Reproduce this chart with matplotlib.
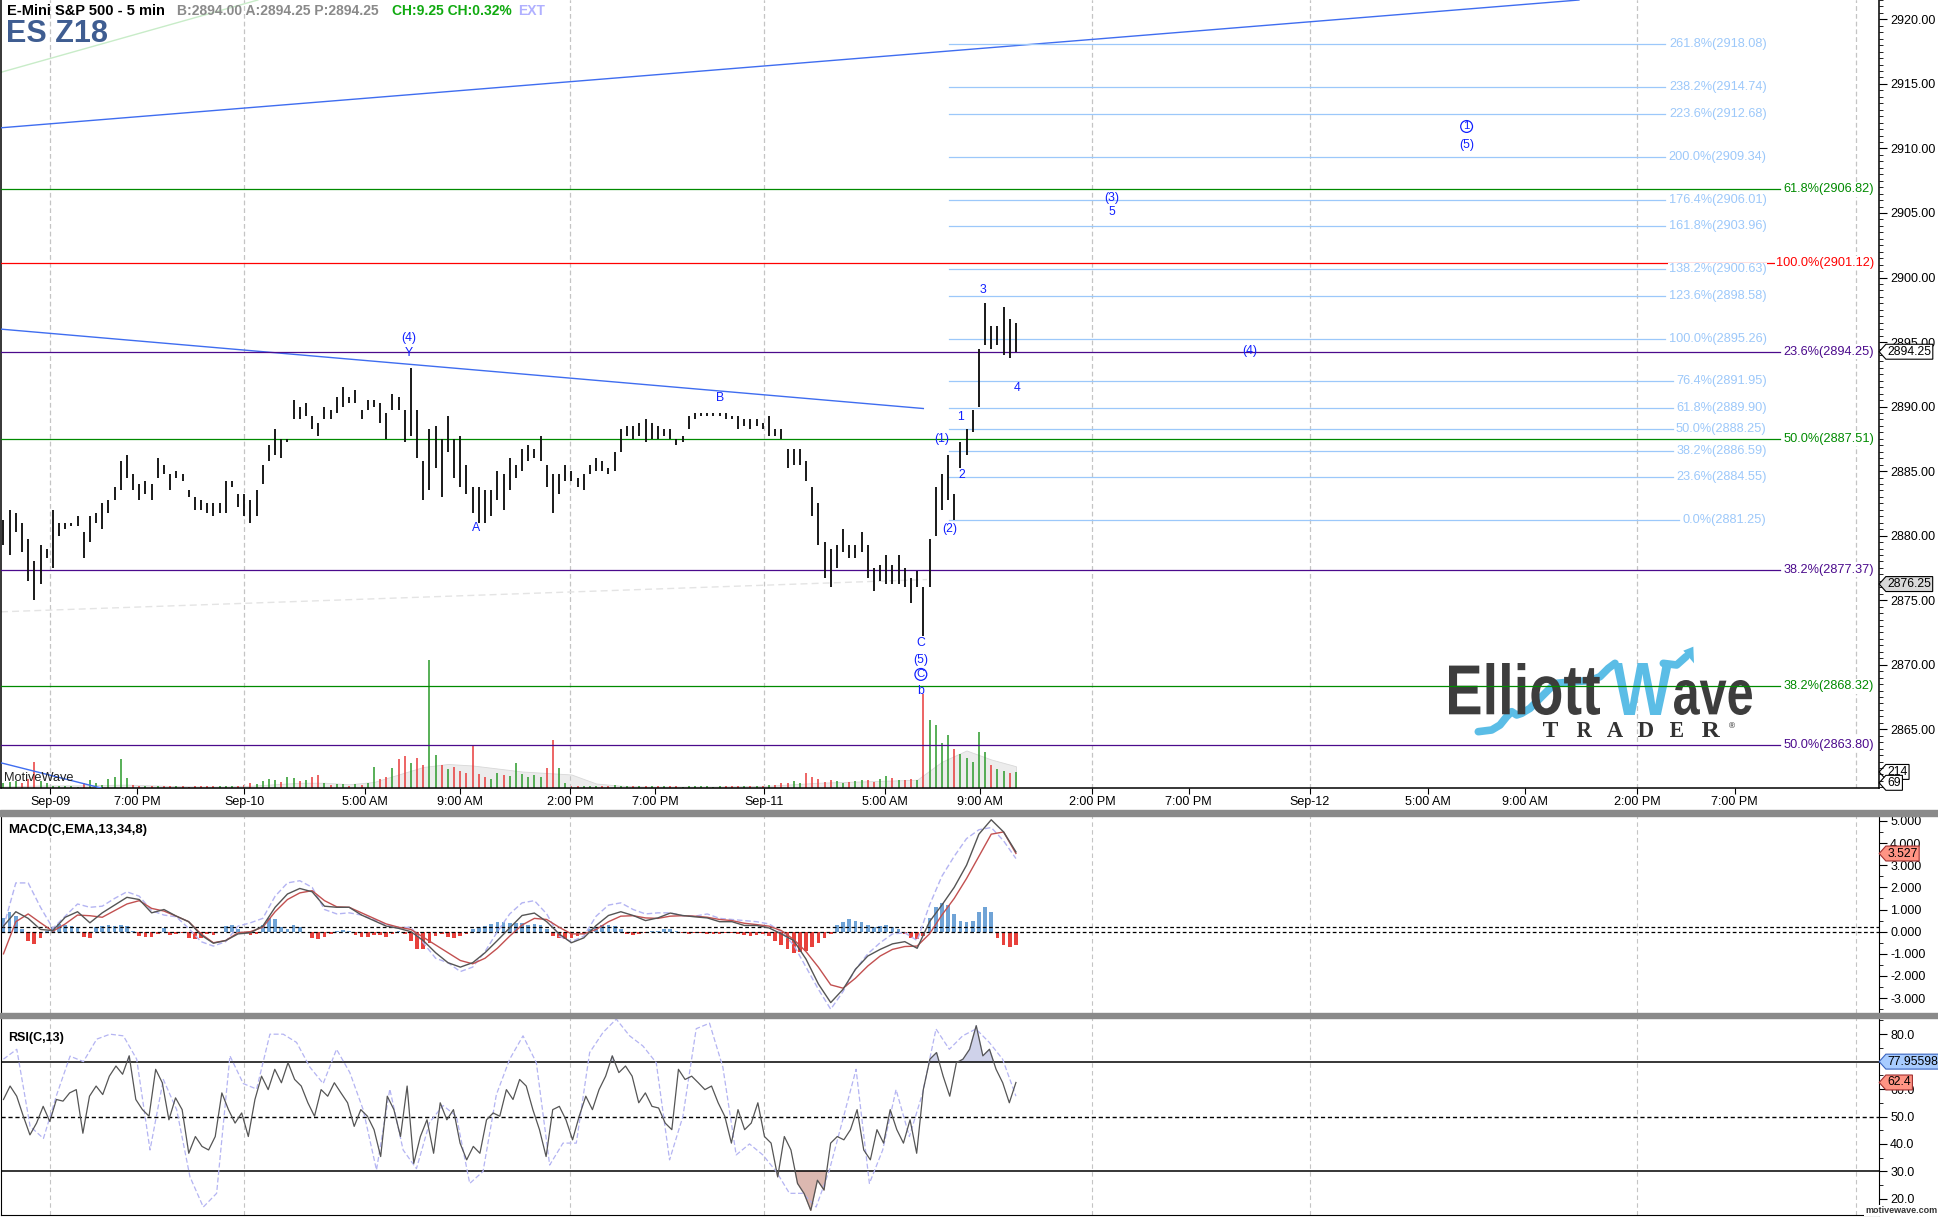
import numpy as np
import matplotlib
matplotlib.use("Agg")
import matplotlib.pyplot as plt
from matplotlib.ticker import MultipleLocator, FormatStrFormatter
from matplotlib.path import Path
from matplotlib.patches import PathPatch, Rectangle, Polygon
from matplotlib.textpath import TextPath
from matplotlib.font_manager import FontProperties
from matplotlib.transforms import Affine2D

plt.rcParams['font.family'] = ['Liberation Sans', 'DejaVu Sans']

W, H = 1938, 1217

# ---- price bars (one bar per slot) ----
highs = [2881.25, 2882.0, 2881.75, 2881.0, 2879.75, 2878.0, 2879.25, 2879.0, 2882.0, 2881.0,
         2881.0, 2881.0, 2881.5, 2880.25, 2881.5, 2881.75, 2882.5, 2882.75, 2883.75, 2885.75,
         2886.25, 2884.75, 2884.0, 2884.25, 2884.0, 2886.0, 2885.5, 2884.75, 2885.0, 2884.75,
         2883.5, 2883.0, 2882.75, 2882.5, 2882.5, 2882.5, 2884.25, 2884.25, 2883.25, 2883.25,
         2882.75, 2883.5, 2885.5, 2887.0, 2888.25, 2887.5, 2887.5, 2890.5, 2890.0, 2890.25,
         2889.25, 2888.75, 2890.0, 2889.75, 2890.75, 2891.5, 2890.75, 2891.25, 2889.75, 2890.5,
         2890.5, 2890.25, 2889.5, 2891.0, 2890.75, 2889.75, 2893.0, 2889.75, 2885.75, 2888.25,
         2888.5, 2887.5, 2889.25, 2887.5, 2887.75, 2885.5, 2883.75, 2883.75, 2883.5, 2883.5,
         2885.0, 2884.75, 2886.0, 2885.5, 2886.75, 2887.0, 2886.75, 2887.75, 2885.5, 2884.75,
         2884.75, 2885.5, 2885.0, 2884.5, 2884.75, 2885.5, 2886.0, 2885.75, 2885.25, 2886.5,
         2888.25, 2888.5, 2888.5, 2888.75, 2889.0, 2888.75, 2888.5, 2888.25, 2888.25, 2887.5,
         2887.75, 2889.25, 2889.5, 2889.5, 2889.5, 2889.5, 2889.5, 2889.5, 2889.25, 2889.25,
         2889.0, 2889.0, 2889.0, 2888.75, 2889.25, 2888.25, 2888.25, 2886.75, 2886.75, 2886.75,
         2885.75, 2883.75, 2882.5, 2879.5, 2879.0, 2879.25, 2880.5, 2879.25, 2879.25, 2880.25,
         2879.25, 2877.5, 2877.75, 2878.5, 2877.75, 2878.5, 2877.5, 2876.75, 2877.25, 2876.0,
         2879.75, 2883.75, 2884.75, 2886.25, 2883.25, 2887.25, 2888.25, 2889.75, 2894.5, 2898.0,
         2896.25, 2896.25, 2897.75, 2896.75, 2896.5]
lows = [2879.25, 2878.5, 2880.25, 2878.75, 2876.5, 2875.0, 2876.25, 2878.25, 2877.5, 2880.0,
        2880.5, 2880.75, 2880.75, 2878.25, 2879.5, 2881.0, 2880.5, 2881.75, 2882.75, 2883.5,
        2884.5, 2883.5, 2882.75, 2883.25, 2882.75, 2884.5, 2884.75, 2883.5, 2884.5, 2884.25,
        2883.0, 2882.0, 2882.0, 2881.75, 2881.5, 2881.75, 2881.75, 2883.75, 2882.25, 2881.5,
        2881.0, 2881.5, 2884.0, 2885.75, 2886.25, 2886.0, 2887.25, 2889.0, 2889.0, 2889.25,
        2888.25, 2887.75, 2889.0, 2889.0, 2889.5, 2890.0, 2890.25, 2890.25, 2889.0, 2889.75,
        2890.0, 2888.75, 2887.5, 2889.75, 2889.75, 2887.25, 2887.75, 2886.0, 2882.75, 2883.5,
        2885.25, 2883.0, 2886.5, 2884.5, 2883.75, 2883.25, 2881.75, 2881.0, 2881.0, 2881.5,
        2882.75, 2882.0, 2883.5, 2884.5, 2885.0, 2885.75, 2886.0, 2885.75, 2883.75, 2881.75,
        2883.25, 2884.25, 2884.25, 2883.75, 2883.5, 2884.75, 2885.0, 2885.0, 2884.75, 2885.0,
        2886.5, 2887.75, 2887.5, 2887.75, 2887.25, 2887.5, 2887.5, 2887.75, 2887.5, 2887.0,
        2887.25, 2888.25, 2889.0, 2889.25, 2889.25, 2889.25, 2889.25, 2889.0, 2889.0, 2888.25,
        2888.5, 2888.25, 2888.5, 2888.25, 2887.75, 2887.75, 2887.5, 2885.25, 2885.5, 2885.5,
        2884.25, 2881.5, 2879.25, 2876.75, 2876.0, 2877.5, 2878.75, 2878.25, 2878.25, 2878.75,
        2876.75, 2875.75, 2876.5, 2876.25, 2876.25, 2876.25, 2876.0, 2874.75, 2876.0, 2872.25,
        2876.0, 2880.0, 2882.0, 2882.75, 2881.25, 2885.25, 2886.25, 2888.0, 2890.0, 2894.75,
        2894.5, 2894.75, 2894.0, 2893.75, 2894.25]
volume = [60, 80, 90, 60, 120, 346, 90, 70, 30, 20, 20, 20, 15, 60, 100, 60, 40, 120, 150, 382,
          130, 40, 30, 30, 25, 25, 20, 20, 20, 20, 15, 20, 20, 20, 25, 20, 25, 20, 30, 35,
          60, 50, 90, 120, 110, 80, 150, 130, 90, 100, 140, 170, 60, 40, 50, 50, 30, 50, 40, 60,
          280, 120, 150, 260, 380, 420, 330, 400, 310, 1700, 444, 300, 250, 280, 230, 200, 555, 180, 150, 120,
          200, 170, 160, 333, 190, 150, 170, 140, 270, 635, 266, 60, 30, 25, 25, 20, 25, 20, 20, 40,
          30, 20, 20, 25, 25, 20, 30, 20, 20, 20, 15, 20, 20, 25, 20, 15, 20, 20, 30, 20,
          25, 20, 25, 30, 35, 40, 60, 70, 90, 60, 200, 150, 120, 80, 100, 90, 70, 80, 90, 100,
          110, 80, 120, 155, 130, 100, 110, 120, 100, 1256, 900, 843, 600, 700, 520, 450, 400, 350, 740, 480,
          300, 250, 220, 200, 214]
volume_avg = [20, 30, 35, 35, 40, 45, 35, 25, 20, 20, 30, 50, 70, 70, 50, 80, 180, 280, 320, 300,
              260, 220, 200, 180, 60, 30, 20, 20, 20, 20, 25, 30, 50, 70, 80, 90, 100, 110, 350, 500,
              380, 290]

# ---- MACD(C,EMA,13,34,8) ----
macd_hist = [0.6, 0.9, 0.7, 0.1, -0.4, -0.55, -0.3, 0.05, 0.2, 0.35, 0.3, 0.25, 0.2, -0.25, -0.3, 0.2,
             0.25, 0.28, 0.25, 0.3, 0.25, 0.05, -0.2, -0.25, -0.22, -0.1, 0.15, -0.15, -0.12, -0.05, -0.3,
             -0.35, -0.3, -0.1, -0.15, 0.0, 0.25, 0.3, 0.1, -0.05, -0.15, -0.1, 0.3, 0.6, 0.55, 0.2, 0.1,
             0.3, 0.2, 0.0, -0.3, -0.35, -0.25, -0.1, 0.05, 0.08, 0.05, -0.15, -0.25, -0.25, -0.15, -0.15,
             -0.25, -0.1, 0.05, -0.1, -0.4, -0.8, -0.8, -0.5, -0.2, -0.1, -0.25, -0.3, -0.2, -0.1, 0.1,
             0.2, 0.25, 0.35, 0.45, 0.45, 0.4, 0.4, 0.4, 0.3, 0.35, 0.3, 0.1, -0.2, -0.3, -0.35, -0.3,
             -0.2, -0.1, 0.1, 0.2, 0.3, 0.3, 0.25, 0.1, -0.1, -0.15, -0.1, -0.05, 0.05, 0.05, 0.1, 0.1,
             0.05, -0.05, -0.1, -0.05, -0.05, -0.1, -0.1, -0.1, -0.05, -0.05, -0.1, -0.15, -0.2, -0.15,
             -0.1, -0.2, -0.4, -0.6, -0.8, -0.95, -0.9, -0.85, -0.7, -0.5, -0.3, -0.1, 0.3, 0.45, 0.55,
             0.5, 0.45, 0.3, 0.2, 0.25, 0.3, 0.2, 0.1, -0.1, -0.3, -0.35, -0.2, 0.6, 1.1, 1.3, 1.2, 0.8,
             0.5, 0.45, 0.5, 0.9, 1.1, 0.9, -0.3, -0.6, -0.7, -0.6]
macd_line = [0.25, 0.9, 0.6, 0.1, 0.05, 0.65, 0.9, 0.4, 0.85, 1.2, 1.55, 1.45, 0.85, 1.0, 0.7, 0.45,
             -0.15, -0.52, -0.4, -0.1, -0.05, 0.25, 1.1, 1.7, 1.95, 1.8, 1.15, 1.1, 1.1, 0.75, 0.5, 0.25,
             0.15, 0.0, -0.4, -0.95, -1.4, -1.6, -1.4, -0.95, -0.4, 0.17, 0.73, 0.84, 0.45, -0.1, -0.5,
             -0.28, 0.28, 0.73, 0.9, 0.73, 0.5, 0.62, 0.84, 0.73, 0.67, 0.62, 0.45, 0.45, 0.28, 0.28, 0.17,
             -0.1, -0.4, -1.24, -2.36, -3.2, -2.6, -1.7, -1.1, -0.8, -0.55, -0.45, -0.75, 0.45, 1.2, 2.0,
             3.0, 4.4, 5.05, 4.5, 3.6]
macd_signal = [-1.0, 0.45, 0.8, 0.4, 0.02, 0.35, 0.75, 0.72, 0.65, 0.95, 1.25, 1.4, 1.05, 0.93, 0.7,
               0.45, -0.1, -0.5, -0.4, -0.05, 0.0, 0.2, 0.9, 1.45, 1.75, 1.85, 1.4, 1.12, 1.1, 0.85, 0.6,
               0.35, 0.2, 0.1, -0.25, -0.6, -0.95, -1.3, -1.45, -1.2, -0.75, -0.2, 0.3, 0.6, 0.55, 0.2,
               -0.1, -0.1, 0.1, 0.45, 0.7, 0.72, 0.62, 0.6, 0.7, 0.72, 0.7, 0.65, 0.55, 0.5, 0.38, 0.32,
               0.25, 0.05, -0.35, -0.9, -1.6, -2.4, -2.55, -2.1, -1.55, -1.1, -0.8, -0.67, -0.65, -0.1,
               0.75, 1.5, 2.4, 3.4, 4.4, 4.5, 3.53]
macd_fast = [0.2, 2.2, 2.2, 1.1, 0.15, 0.7, 1.25, 1.1, 1.15, 1.5, 1.8, 1.6, 0.95, 0.75, 0.67, 0.15,
             -0.45, -0.65, -0.45, 0.25, 0.4, 0.6, 1.6, 2.2, 2.3, 2.0, 1.0, 0.8, 0.85, 0.75, 0.55, 0.3,
             0.18, 0.2, -0.5, -1.2, -1.4, -1.8, -1.6, -0.9, 0.0, 0.8, 1.3, 1.4, 0.8, -0.2, -0.45, -0.2,
             0.7, 1.2, 1.3, 1.0, 0.8, 0.85, 0.85, 0.72, 0.7, 0.8, 0.6, 0.55, 0.5, 0.45, 0.35, 0.0, -0.6,
             -1.6, -2.6, -3.5, -2.7, -1.7, -1.0, -0.5, -0.1, -0.05, -0.4, 1.2, 2.5, 3.4, 4.2, 4.6, 4.7,
             4.1, 3.3]

# ---- RSI(C,13) ----
rsi = [56.2, 61.1, 57.4, 50.1, 43.3, 47.6, 53.7, 48.2, 56.2, 55.6, 58.6, 59.8, 43.9, 57.4, 61.1, 58.0,
       64.7, 68.4, 65.4, 72.1, 56.2, 52.5, 50.1, 67.2, 62.3, 48.8, 56.8, 52.5, 36.6, 42.7, 39.1, 37.8,
       42.7, 58.6, 52.5, 47.6, 51.3, 42.7, 56.2, 64.7, 59.8, 67.2, 62.3, 69.6, 63.5, 61.1, 55.0, 50.1,
       59.8, 57.4, 62.3, 58.6, 55.0, 46.4, 52.5, 50.1, 45.2, 35.4, 57.4, 52.5, 42.7, 61.1, 32.9, 42.7,
       48.8, 36.6, 55.0, 48.8, 52.5, 40.3, 34.2, 39.1, 36.6, 48.8, 51.3, 50.1, 59.8, 56.2, 63.5, 61.1,
       52.5, 45.2, 35.4, 52.5, 53.7, 48.8, 41.5, 50.1, 57.4, 52.5, 59.8, 64.7, 72.1, 66.0, 68.4, 64.7,
       55.0, 58.6, 53.7, 53.1, 47.6, 45.2, 67.2, 63.5, 64.7, 62.3, 59.8, 61.1, 55.0, 50.1, 40.3, 52.5,
       45.2, 47.6, 55.0, 42.7, 40.3, 28.0, 42.7, 37.8, 25.6, 21.9, 15.8, 26.8, 23.2, 40.3, 42.7, 41.5,
       45.2, 52.5, 37.8, 34.2, 45.2, 40.3, 52.5, 45.2, 40.3, 48.8, 36.6, 59.8, 70.9, 73.3, 64.7, 57.4,
       69.6, 70.9, 74.5, 83.1, 72.1, 74.5, 67.2, 62.3, 55.0, 62.4]
rsi_fast = [70.9, 74.5, 46.4, 42.0, 58.0, 72.0, 70.0, 78.2, 80.0, 79.4, 70.9, 37.8, 63.5, 52.5, 28.0,
            17.0, 22.0, 72.1, 62.0, 60.0, 80.0, 80.0, 77.0, 68.0, 62.0, 74.5, 66.0, 52.5, 30.5, 60.0,
            37.8, 31.0, 48.0, 54.0, 50.1, 25.6, 30.0, 58.0, 70.9, 79.4, 69.6, 32.3, 40.3, 40.3, 73.3,
            80.6, 85.5, 79.4, 75.7, 69.6, 34.2, 50.0, 82.0, 84.0, 68.0, 36.0, 40.0, 36.0, 30.0, 22.0,
            22.0, 17.0, 30.5, 48.8, 67.2, 25.6, 37.8, 59.8, 42.7, 58.6, 81.9, 74.5, 79.4, 81.9, 77.0,
            70.9, 57.4]

# ---- time axis ----
tick_pos = [8, 22, 39.4, 59, 74.4, 92.2, 106, 123.6, 143.2, 158.6, 176.8, 192.4, 212, 231.2, 246.8, 265, 280.8]
tick_lab = ['Sep-09', '7:00 PM', 'Sep-10', '5:00 AM', '9:00 AM', '2:00 PM', '7:00 PM', 'Sep-11', '5:00 AM',
            '9:00 AM', '2:00 PM', '7:00 PM', 'Sep-12', '5:00 AM', '9:00 AM', '2:00 PM', '7:00 PM']
grid_pos = [8, 39.4, 92.2, 123.6, 176.8, 212, 265, 300.4]

# ---- fib projections and retracement levels ----
fib_pct = ['261.8', '238.2', '223.6', '200.0', '176.4', '161.8', '138.2', '123.6', '100.0',
           '76.4', '61.8', '50.0', '38.2', '23.6', '0.0']
fib_price = [2918.08, 2914.74, 2912.68, 2909.34, 2906.01, 2903.96, 2900.63, 2898.58, 2895.26,
             2891.95, 2889.90, 2888.25, 2886.59, 2884.55, 2881.25]
lvl_pct = ['61.8', '100.0', '23.6', '50.0', '38.2', '38.2', '50.0']
lvl_price = [2906.82, 2901.12, 2894.25, 2887.51, 2877.37, 2868.32, 2863.80]
lvl_color = ['#008a00', '#ff0000', '#4b0a8c', '#008a00', '#4b0a8c', '#008a00', '#4b0a8c']

XMAX = 304.2
xb = np.arange(len(highs)) + 0.4
highs = np.array(highs); lows = np.array(lows)


def tag_box(x0, y0, width, height, mutation_size):
    pad = 0.12 * mutation_size
    x0 -= pad; y0 -= pad; width += 2 * pad; height += 2 * pad
    tip = height * 0.45
    verts = [(x0 - tip, y0 + height / 2), (x0, y0 + height), (x0 + width, y0 + height),
             (x0 + width, y0), (x0, y0), (x0 - tip, y0 + height / 2)]
    codes = [Path.MOVETO] + [Path.LINETO] * 4 + [Path.CLOSEPOLY]
    return Path(verts, codes)


def tag(axis, y, s, fc, ec='black'):
    axis.annotate(s, xy=(1.0, y), xycoords=('axes fraction', 'data'), xytext=(6, 0),
                  textcoords='offset points', ha='left', va='center', fontsize=8.8,
                  bbox=dict(boxstyle=tag_box, fc=fc, ec=ec, lw=0.8), annotation_clip=False, zorder=10)


fig = plt.figure(figsize=(W / 100, H / 100), dpi=100)
fig.patch.set_facecolor('white')
x_left = 1 / W
w_ax = 1878 / W

axv = fig.add_axes([x_left, 1 - 788 / H, w_ax, 788 / H])
ax = fig.add_axes([x_left, 1 - 788 / H, w_ax, 788 / H])
axm = fig.add_axes([x_left, 1 - 1013 / H, w_ax, (1013 - 816) / H])
axr = fig.add_axes([x_left, 1 - 1215 / H, w_ax, (1215 - 1018) / H])
ax.set_facecolor('none')

for a in (axv, ax, axm, axr):
    a.set_xlim(0, XMAX)
    for g in grid_pos:
        a.axvline(g, color='#c4c4c4', ls=(0, (4, 3)), lw=0.8, zorder=0)

# volume overlay
axv.axis('off')
axv.set_ylim(0, 10500)
mid = (highs + lows) / 2
vcol = ['#2a9a2a' if i == 0 or mid[i] >= mid[i - 1] else '#e83a3a' for i in range(len(mid))]
xa = np.linspace(xb[0], xb[-1], len(volume_avg))
axv.fill_between(xa, 0, volume_avg, color='#ececec', lw=0.6, edgecolor='#d8d8d8', zorder=1)
axv.vlines(xb, 0, volume, colors=vcol, lw=1.1, zorder=2)
tag(axv, 214, '214', 'white')
tag(axv, 69, '69', 'white')

# price panel
ax.set_ylim(2860.45, 2921.5)
ax.vlines(xb, lows, highs, colors='#111111', lw=1.35, zorder=4)

ax.plot([0, 255.6], [2911.6, 2921.5], color='#3f6df0', lw=1.0, zorder=3)
ax.plot([0, 149.4], [2896.0, 2889.85], color='#3f6df0', lw=1.0, zorder=3)
ax.plot([0, 41.6], [2915.9, 2921.5], color='#c8ecc8', lw=1.0, zorder=2)
ax.plot([0, 16.2], [2862.4, 2860.45], color='#3f6df0', lw=1.0, zorder=3)
ax.plot([0, 150], [2874.1, 2876.6], color='#e4e4e4', lw=1.0, ls=(0, (5, 3)), zorder=2)

for p, y in zip(fib_pct, fib_price):
    end = 269.6 if float(p) >= 100 else (270.8 if float(p) >= 10 else 271.8)
    ax.plot([153.6, end], [y, y], color='#9cc8fa', lw=0.9, zorder=3)
    ax.text(286, y, p + '%(' + format(y, '.2f') + ')', ha='right', va='center', fontsize=9.2,
            color='#9cc8fa', zorder=6, bbox=dict(boxstyle='square,pad=0.05', fc='white', ec='none'))

for p, y, c in zip(lvl_pct, lvl_price, lvl_color):
    ax.plot([0, 288.2], [y, y], color=c, lw=0.9, zorder=3)
    ax.text(303.4, y, p + '%(' + format(y, '.2f') + ')', ha='right', va='center', fontsize=9.2,
            color=c, zorder=6, bbox=dict(boxstyle='square,pad=0.1', fc='white', ec='none'))

wave_labels = [('(4)', 66, 2895.3), ('Y', 66, 2894.15), ('A', 77, 2880.6), ('B', 116.4, 2890.7),
               ('C', 149, 2871.7), ('(5)', 149, 2870.4), ('b', 149, 2868.0), ('(1)', 152.4, 2887.45),
               ('(2)', 153.6, 2880.5), ('1', 155.4, 2889.2), ('2', 155.6, 2884.7), ('3', 159, 2899.0),
               ('4', 164.6, 2891.45), ('(4)', 202.2, 2894.3), ('(3)', 180, 2906.15), ('5', 180, 2905.1),
               ('(5)', 237.4, 2910.25)]
for s, x, y in wave_labels:
    ax.text(x, y, s, color='#1020ff', fontsize=8.8, ha='center', va='center', zorder=6)
for s, x, y in [('C', 149, 2869.25), ('1', 237.4, 2911.7)]:
    ax.text(x, y, s, color='#1020ff', fontsize=8.2, ha='center', va='center', zorder=6,
            bbox=dict(boxstyle='circle,pad=0.08', fc='none', ec='#1020ff', lw=0.9))

ax.text(3 / 1878, 10 / 788, 'MotiveWave', transform=ax.transAxes, fontsize=9.2, va='center', color='#222222')

ax.yaxis.tick_right()
ax.yaxis.set_major_locator(MultipleLocator(5))
ax.yaxis.set_minor_locator(MultipleLocator(0.5))
ax.yaxis.set_major_formatter(FormatStrFormatter('%.2f'))
ax.set_xticks(tick_pos)
ax.set_xticklabels(tick_lab)
ax.tick_params(axis='x', length=4, pad=2, labelsize=9)
ax.tick_params(axis='y', which='major', length=6, labelsize=9, pad=2)
ax.tick_params(axis='y', which='minor', length=3)
ax.spines['top'].set_visible(False)
for s in ('left', 'right', 'bottom'):
    ax.spines[s].set_linewidth(1.1)
tag(ax, 2894.25, '2894.25', 'white')
tag(ax, 2876.25, '2876.25', '#d9d9d9')

# MACD panel
axm.set_ylim(-3.67, 5.22)
hcol = ['#6fa3d6' if v >= 0 else '#e8413c' for v in macd_hist]
axm.bar(xb, macd_hist, width=0.6, color=hcol, zorder=2)
axm.axhline(0, color='black', ls=(0, (3, 2)), lw=0.9, zorder=3)
axm.axhline(0.22, color='black', ls=(0, (3, 2)), lw=0.9, zorder=3)
xm = np.linspace(xb[0], xb[-1], len(macd_line))
axm.plot(xm, macd_fast, color='#b4b4f2', lw=1.0, ls=(0, (4, 2)), zorder=3)
axm.plot(xm, macd_signal, color='#c25050', lw=1.0, zorder=4)
axm.plot(xm, macd_line, color='#555555', lw=1.0, zorder=4)
axm.text(7 / 1878, 0.93, 'MACD(C,EMA,13,34,8)', transform=axm.transAxes, fontsize=9.5,
         fontweight='bold', va='center')
axm.yaxis.tick_right()
axm.yaxis.set_major_locator(MultipleLocator(1))
axm.yaxis.set_minor_locator(MultipleLocator(0.5))
axm.yaxis.set_major_formatter(FormatStrFormatter('%.3f'))
axm.tick_params(axis='x', bottom=False, labelbottom=False)
axm.tick_params(axis='y', which='major', length=6, labelsize=9, pad=2)
axm.tick_params(axis='y', which='minor', length=3)
axm.spines['top'].set_visible(False)
axm.spines['bottom'].set_visible(False)
tag(axm, 3.527, '3.527', '#ff9484', '#a03030')

# RSI panel
axr.set_ylim(14.1, 85.9)
xr = np.linspace(xb[0], xb[-1], len(rsi))
rsi_a = np.array(rsi)
axr.fill_between(xr, rsi_a, 70, where=rsi_a > 70, interpolate=True, color='#cfd2ea', zorder=1)
axr.fill_between(xr, rsi_a, 30, where=rsi_a < 30, interpolate=True, color='#dcb8b0', zorder=1)
axr.axhline(70, color='black', lw=1.1, zorder=2)
axr.axhline(30, color='black', lw=1.1, zorder=2)
axr.axhline(50, color='black', lw=1.0, ls=(0, (3, 2)), zorder=2)
axr.plot(np.linspace(xb[0], xb[-1], len(rsi_fast)), rsi_fast, color='#b4b4f2', lw=0.9,
         ls=(0, (4, 2)), zorder=3)
axr.plot(xr, rsi, color='#555555', lw=0.9, zorder=4)
axr.text(7 / 1878, 0.9, 'RSI(C,13)', transform=axr.transAxes, fontsize=9, fontweight='bold', va='center')
axr.yaxis.tick_right()
axr.yaxis.set_major_locator(MultipleLocator(10))
axr.yaxis.set_minor_locator(MultipleLocator(5))
axr.yaxis.set_major_formatter(FormatStrFormatter('%.1f'))
axr.tick_params(axis='x', bottom=False, labelbottom=False)
axr.tick_params(axis='y', which='major', length=6, labelsize=9, pad=2)
axr.tick_params(axis='y', which='minor', length=3)
axr.spines['top'].set_visible(False)
tag(axr, 70, '77.95598', '#a8ccff', '#3a64c0')
tag(axr, 62.4, '62.4', '#ff9484', '#a03030')

# panel separators
fig.add_artist(Rectangle((0, 1 - 816 / H), 1, 6 / H, transform=fig.transFigure, color='#8a8a8a', zorder=20))
fig.add_artist(Rectangle((0, 1 - 1018 / H), 1, 5 / H, transform=fig.transFigure, color='#8a8a8a', zorder=20))

# header
fig.text(7 / W, 1 - 4 / H, 'E-Mini S&P 500 - 5 min', fontsize=10.5, fontweight='bold', va='top')
fig.text(177 / W, 1 - 4 / H, 'B:2894.00 A:2894.25 P:2894.25', fontsize=10, fontweight='bold',
         color='#8a8a8a', va='top')
fig.text(392 / W, 1 - 4 / H, 'CH:9.25 CH:0.32%', fontsize=10, fontweight='bold', color='#10aa10', va='top')
fig.text(518 / W, 1 - 4 / H, 'EXT', fontsize=10, fontweight='bold', color='#b0b0ff', va='top')
fig.text(6 / W, 1 - 19 / H, 'ES Z18', fontsize=22, fontweight='bold', color='#3f5d91', va='top')
fig.text(1 - 1 / W, 2 / H, 'motivewave.com', fontsize=6.5, fontweight='bold', color='#333333',
         ha='right', va='bottom', bbox=dict(boxstyle='square,pad=0.1', fc='white', ec='none'), zorder=21)


# logo
def logo_text(s, x0, x1, y_top, y_base, color, family='Liberation Sans', weight='bold'):
    tp = TextPath((0, 0), s, size=100, prop=FontProperties(family=family, weight=weight))
    bb = tp.get_extents()
    tr = (Affine2D().translate(-bb.x0, -bb.y0)
          .scale((x1 - x0) / bb.width / W, (y_base - y_top) / bb.height / H)
          .translate(x0 / W, 1 - y_base / H))
    ax.add_artist(PathPatch(tr.transform_path(tp), fc=color, ec='none', transform=fig.transFigure,
                            zorder=1, clip_on=False))


sw1 = [(235, 305), (275, 300), (300, 285), (320, 260), (335, 245), (350, 255), (365, 250), (390, 235),
       (410, 215), (430, 195), (450, 175), (470, 160), (520, 155), (570, 152), (600, 140), (625, 115),
       (645, 100)]
sw2 = [(790, 100), (830, 105), (858, 80)]
for sw in (sw1, sw2):
    ax.plot([(1400 + a / 3) / W for a, b in sw], [1 - (630 + b / 3) / H for a, b in sw],
            transform=fig.transFigure, color='#5bbde6', lw=5.5, solid_capstyle='round', zorder=1, clip_on=False)
head = [(850, 62), (880, 50), (882, 100)]
ax.add_artist(Polygon([((1400 + a / 3) / W, 1 - (630 + b / 3) / H) for a, b in head], closed=True,
                      fc='#5bbde6', ec='none', transform=fig.transFigure, zorder=1, clip_on=False))
logo_text('Elliott', 1449, 1600, 663, 715, '#3d3d3d')
logo_text('W', 1613, 1672, 663, 715, '#5bbde6')
logo_text('ave', 1674, 1752, 680, 715, '#3d3d3d')
for ch, a0, a1 in [('T', 1543, 1558), ('R', 1577, 1592), ('A', 1607, 1623), ('D', 1638, 1653),
                   ('E', 1670, 1683), ('R', 1702, 1720)]:
    logo_text(ch, a0, a1, 722, 737, '#333333', family='Liberation Serif')
logo_text('®', 1729, 1735, 722, 728, '#555555')

fig.savefig('out.png', dpi=100, facecolor='white')
